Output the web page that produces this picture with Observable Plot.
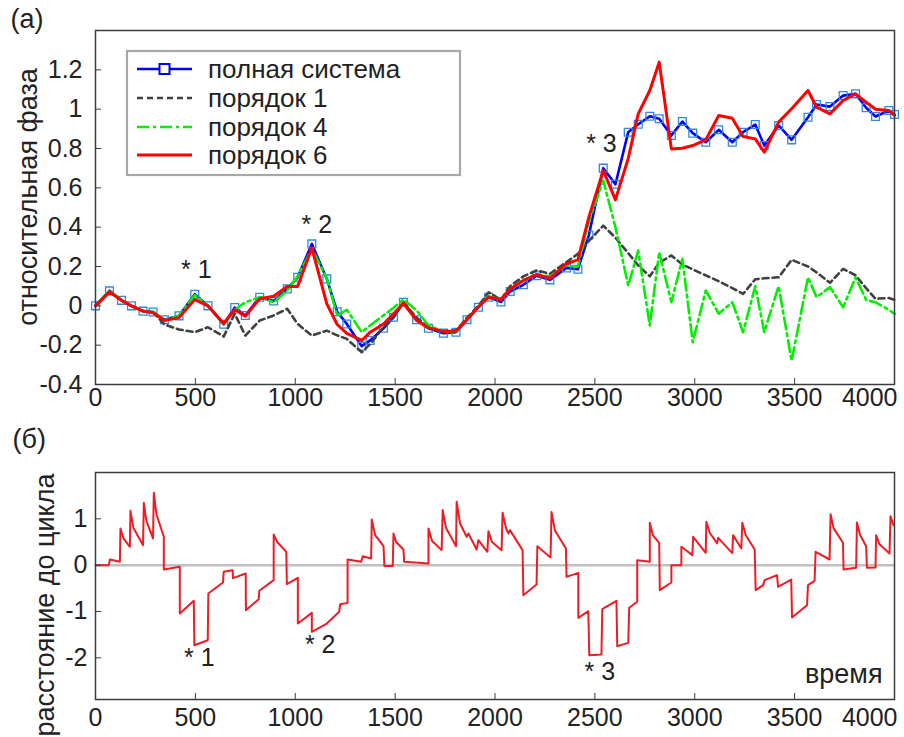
<!DOCTYPE html>
<html>
<head>
<meta charset="utf-8">
<script src="https://cdn.jsdelivr.net/npm/d3@7"></script>
<script src="https://cdn.jsdelivr.net/npm/@observablehq/plot@0.6"></script>
<style>
  body { margin: 0; background: #fff; }
  #chart { position: relative; width: 904px; height: 737px; background: #fff; }
  #chart svg { display: block; overflow: visible; }
</style>
</head>
<body>
<div id="chart"></div>
<script>
// ---- (а) relative phase: full system vs. reduced-order models ----
const time = [0, 70, 130, 180, 238, 288, 345, 418, 497, 563,
  642, 697, 750, 822, 892, 960, 1012, 1083, 1158, 1210,
  1258, 1333, 1375, 1442, 1492, 1542, 1608, 1667, 1742, 1805,
  1860, 1917, 1968, 2030, 2076, 2142, 2208, 2275, 2358, 2415,
  2470, 2542, 2603, 2667, 2717, 2775, 2822, 2883, 2938, 2990,
  3055, 3120, 3188, 3242, 3303, 3348, 3420, 3485, 3567, 3610,
  3677, 3743, 3805, 3858, 3905, 3972, 4000];

const fullSystem = [0, 0.076, 0.028, 0.0, -0.027, -0.031, -0.071, -0.051, 0.059, 0.0,
  -0.094, -0.009, -0.049, 0.044, 0.025, 0.086, 0.145, 0.315, 0.137, -0.03,
  -0.092, -0.205, -0.176, -0.114, -0.058, 0.018, -0.071, -0.114, -0.139, -0.134,
  -0.071, -0.007, 0.044, 0.02, 0.073, 0.107, 0.153, 0.132, 0.193, 0.186,
  0.36, 0.70, 0.618, 0.883, 0.923, 0.964, 0.951, 0.866, 0.937, 0.878,
  0.832, 0.895, 0.832, 0.883, 0.922, 0.815, 0.917, 0.844, 0.959, 1.024,
  1.013, 1.069, 1.078, 1.007, 0.963, 0.993, 0.973];

const order1 = [0, 0.076, 0.028, 0.0, -0.027, -0.031, -0.095, -0.12, -0.134, -0.109,
  -0.156, -0.04, -0.151, -0.075, -0.049, -0.015, -0.092, -0.151, -0.126, -0.15,
  -0.168, -0.236, -0.194, -0.109, -0.06, 0.018, -0.06, -0.11, -0.13, -0.125,
  -0.06, 0.0, 0.069, 0.031, 0.1, 0.15, 0.18, 0.163, 0.222, 0.264,
  0.33, 0.408, 0.346, 0.268, 0.205, 0.15, 0.22, 0.256, 0.21, 0.185,
  0.155, 0.125, 0.09, 0.061, 0.135, 0.14, 0.145, 0.234, 0.2, 0.17,
  0.117, 0.188, 0.155, 0.09, 0.036, 0.04, 0.03];

const order4 = [0, 0.076, 0.028, 0.0, -0.027, -0.031, -0.071, -0.051, 0.055, 0.0,
  -0.094, -0.02, 0.018, 0.044, 0.018, 0.078, 0.15, 0.29, 0.14, -0.05,
  -0.02, -0.134, -0.10, -0.048, -0.01, 0.032, -0.024, -0.1, -0.13, -0.13,
  -0.068, -0.005, 0.05, 0.03, 0.085, 0.13, 0.16, 0.149, 0.205, 0.2,
  0.43, 0.637, 0.40, 0.103, 0.281, -0.1, 0.273, 0.018, 0.239, -0.185,
  0.078, -0.04, 0.018, -0.134, 0.1, -0.134, 0.1, -0.28, 0.145, 0.044,
  0.095, -0.007, 0.145, 0.03, 0.018, -0.02, -0.041];

const order6 = [0, 0.07, 0.028, 0.0, -0.027, -0.035, -0.075, -0.06, 0.032, 0.0,
  -0.09, -0.02, -0.053, 0.036, 0.049, 0.098, 0.098, 0.295, 0.01, -0.095,
  -0.14, -0.176, -0.134, -0.092, -0.04, 0.013, -0.075, -0.112, -0.13, -0.128,
  -0.07, -0.005, 0.045, 0.031, 0.086, 0.129, 0.159, 0.140, 0.214, 0.234,
  0.451, 0.688, 0.539, 0.75, 0.976, 1.095, 1.239, 0.798, 0.801, 0.815,
  0.844, 0.968, 0.954, 0.861, 0.849, 0.781, 0.934, 1.002, 1.095, 1.010,
  0.976, 1.044, 1.078, 1.035, 1.0, 0.993, 0.968];

const seriesNames = ["полная система", "порядок 1", "порядок 4", "порядок 6"];

// ---- (б) distance to the cycle ----
const cycleTime = [0, 67, 72, 122, 125, 140, 172, 175, 190, 238,
  242, 255, 288, 292, 305, 342, 342, 422, 422, 492,
  495, 562, 565, 638, 642, 687, 688, 752, 753, 817,
  820, 892, 892, 910, 955, 958, 1013, 1013, 1083, 1083,
  1158, 1220, 1225, 1262, 1262, 1330, 1338, 1380, 1383, 1400,
  1442, 1446, 1488, 1492, 1505, 1542, 1545, 1667, 1667, 1685,
  1733, 1738, 1755, 1805, 1808, 1825, 1858, 1867, 1908, 1917,
  1962, 1967, 1985, 2033, 2038, 2055, 2067, 2075, 2138, 2142,
  2208, 2212, 2278, 2283, 2300, 2355, 2358, 2417, 2417, 2467,
  2472, 2533, 2537, 2608, 2612, 2667, 2672, 2712, 2712, 2775,
  2775, 2790, 2822, 2825, 2883, 2883, 2933, 2933, 2988, 2992,
  3055, 3058, 3075, 3112, 3117, 3188, 3192, 3233, 3238, 3255,
  3300, 3305, 3342, 3350, 3412, 3417, 3483, 3487, 3562, 3567,
  3600, 3605, 3675, 3680, 3695, 3742, 3745, 3808, 3812, 3828,
  3858, 3862, 3905, 3908, 3925, 3975, 3980, 3995];

const cycleDist = [0, 0, 0.122, 0.072, 0.792, 0.58, 0.396, 1.173, 0.8, 0.432,
  1.346, 0.95, 0.576, 1.562, 1.1, 0.612, -0.094, -0.036, -1.044, -0.77,
  -1.728, -1.62, -0.612, -0.374, -0.144, -0.108, -0.281, -0.18, -0.972, -0.734,
  -0.554, -0.324, 0.662, 0.5, 0.288, -0.41, -0.274, -1.26, -1.03, -1.44,
  -1.26, -1.008, -0.842, -0.814, 0.122, 0.072, 0.194, 0.144, 0.986, 0.65,
  0.41, -0.02, -0.02, 0.684, 0.5, 0.338, 0.072, 0.036, 0.792, 0.52,
  0.324, 1.188, 0.8, 0.41, 1.368, 0.9, 0.612, 0.684, 0.338, 0.54,
  0.288, 0.734, 0.5, 0.324, 1.13, 0.8, 0.684, 0.756, 0.324, -0.648,
  -0.417, 0.41, 0.166, 1.145, 0.75, 0.36, -0.252, -0.166, -1.138, -0.994,
  -1.944, -1.929, -0.95, -0.77, -1.75, -1.678, -0.92, -0.79, 0.108, 0.072,
  0.914, 0.65, 0.482, -0.54, -0.374, 0.0, 0.0, 0.396, 0.216, 0.612,
  0.266, 0.936, 0.7, 0.47, 0.59, 0.26, 0.648, 0.36, 0.914, 0.65,
  0.338, -0.54, -0.432, -0.324, -0.216, -0.468, -0.31, -1.13, -0.864, -0.432,
  -0.338, 0.288, 0.122, 1.1, 0.8, 0.482, -0.094, -0.057, 0.922, 0.65,
  0.41, -0.057, -0.05, 0.648, 0.45, 0.252, 1.058, 0.86];

// ---- axes ----
const timeTicks = [0, 500, 1000, 1500, 2000, 2500, 3000, 3500];
const timeEndTick = [4000];
const phaseTicks = [-0.4, -0.2, 0, 0.2, 0.4, 0.6, 0.8, 1, 1.2];
const phaseTickLabels = ["-0.4", "-0.2", "0", "0.2", "0.4", "0.6", "0.8", "1", "1.2"];
const distTicks = [-2, -1, 0, 1];
const distTickLabels = ["-2", "-1", "0", "1"];

// ---- event markers ----
const eventLabels = ["* 1", "* 2", "* 3"];
const eventTime = [505, 1108, 2533];
const eventPhase = [0.18, 0.41, 0.825];
const eventTimeB = [520, 1125, 2525];
const eventDist = [-2.0, -1.73, -2.31];

const FONT = "'Liberation Sans', Arial, Helvetica, sans-serif";
const INK = "#222";

const phaseRows = time.map((t, i) => ({
  t, full: fullSystem[i], o1: order1[i], o4: order4[i], o6: order6[i]
}));
const cycleRows = cycleTime.map((t, i) => ({t, d: cycleDist[i]}));
const eventRowsA = eventLabels.map((s, i) => ({s, t: eventTime[i], v: eventPhase[i]}));
const eventRowsB = eventLabels.map((s, i) => ({s, t: eventTimeB[i], v: eventDist[i]}));

const styles = {
  full: {stroke: "#0000ff", strokeWidth: 2.6},
  marker: {stroke: "#2f8ae0", strokeWidth: 1.3},
  o1: {stroke: "#404040", strokeWidth: 2.6, strokeDasharray: "6,4"},
  o4: {stroke: "#00f000", strokeWidth: 2.6, strokeDasharray: "12,4,3,4"},
  o6: {stroke: "#ff0000", strokeWidth: 3}
};

// vertical axis title, centred on (cx, cy)
function sideTitle(svg, label, cx, cy) {
  d3.select(svg).append("text")
    .attr("transform", `translate(${cx},${cy}) rotate(-90)`)
    .attr("text-anchor", "middle").attr("dy", "0.35em")
    .attr("font-family", FONT).attr("font-size", 27).attr("fill", INK)
    .text(label);
}

const chart = document.getElementById("chart");

// ---------- panel (а) ----------
const panelA = Plot.plot({
  width: 904, height: 415,
  marginTop: 30, marginBottom: 31, marginLeft: 95, marginRight: 10,
  style: {fontFamily: FONT, fontSize: "25px", color: INK, background: "white"},
  x: {domain: [0, 4000]},
  y: {domain: [-0.4, 1.4]},
  marks: [
    Plot.line(phaseRows, {x: "t", y: "full", ...styles.full}),
    Plot.dot(phaseRows, {x: "t", y: "full", symbol: "square", r: 4.4, fill: "none", ...styles.marker}),
    Plot.line(phaseRows, {x: "t", y: "o1", ...styles.o1}),
    Plot.line(phaseRows, {x: "t", y: "o4", ...styles.o4}),
    Plot.line(phaseRows, {x: "t", y: "o6", ...styles.o6}),
    Plot.frame({stroke: "#3c3c3c", strokeWidth: 1.5}),
    Plot.axisX({ticks: timeTicks, tickSize: -6, tickPadding: 10, tickFormat: d => String(d), label: null, stroke: "#3c3c3c"}),
    Plot.axisX({ticks: timeEndTick, tickSize: 0, tickPadding: 4, tickFormat: d => String(d), textAnchor: "end", dx: 3, label: null}),
    Plot.axisY({ticks: phaseTicks, tickSize: -6, tickPadding: 19, tickFormat: (d, i) => phaseTickLabels[i], label: null, stroke: "#3c3c3c"}),
    Plot.text(eventRowsA, {x: "t", y: "v", text: "s", fontSize: 25, fill: INK}),
    Plot.text(["(а)"], {frameAnchor: "top-left", dx: -85, dy: -22, fontSize: 27, fill: INK})
  ]
});
sideTitle(panelA, "относительная фаза", 28, 197);

// legend box
const lg = d3.select(panelA).append("g")
  .attr("font-family", FONT).attr("font-size", 26).attr("fill", INK).attr("text-anchor", "start");
lg.append("rect").attr("x", 127).attr("y", 51).attr("width", 333).attr("height", 124)
  .attr("fill", "white").attr("stroke", "#a8a8a8").attr("stroke-width", 2.2);
const rowY = [69, 98, 127, 155];
const keys = ["full", "o1", "o4", "o6"];
keys.forEach((k, i) => {
  const s = styles[k];
  lg.append("line").attr("x1", 137).attr("x2", 192).attr("y1", rowY[i]).attr("y2", rowY[i])
    .attr("stroke", s.stroke).attr("stroke-width", s.strokeWidth)
    .attr("stroke-dasharray", s.strokeDasharray || null);
  if (k === "full") {
    lg.append("rect").attr("x", 159.5).attr("y", rowY[i] - 5).attr("width", 10).attr("height", 10)
      .attr("fill", "white").attr("stroke", "#0000ff").attr("stroke-width", 2);
  }
  lg.append("text").attr("x", 208).attr("y", rowY[i]).attr("dy", "0.35em")
    .attr("text-anchor", "start").text(seriesNames[i]);
});
chart.appendChild(panelA);

// ---------- panel (б) ----------
const panelB = Plot.plot({
  width: 904, height: 322,
  marginTop: 57, marginBottom: 38, marginLeft: 95, marginRight: 10,
  style: {fontFamily: FONT, fontSize: "25px", color: INK, background: "white"},
  x: {domain: [0, 4000]},
  y: {domain: [-2.9, 2.0]},
  marks: [
    Plot.ruleY([0], {stroke: "#c0c0c0", strokeWidth: 2.5}),
    Plot.line(cycleRows, {x: "t", y: "d", stroke: "#ee1c25", strokeWidth: 2}),
    Plot.frame({stroke: "#3c3c3c", strokeWidth: 1.5}),
    Plot.axisX({ticks: timeTicks, tickSize: -6, tickPadding: 15, tickFormat: d => String(d), label: null, stroke: "#3c3c3c"}),
    Plot.axisX({ticks: timeEndTick, tickSize: 0, tickPadding: 9, tickFormat: d => String(d), textAnchor: "end", dx: 3, label: null}),
    Plot.axisY({ticks: distTicks, tickSize: -6, tickPadding: 14, tickFormat: (d, i) => distTickLabels[i], label: null, stroke: "#3c3c3c"}),
    Plot.text(eventRowsB, {x: "t", y: "v", text: "s", fontSize: 25, fill: INK}),
    Plot.text(["время"], {frameAnchor: "bottom-right", textAnchor: "end", dx: -12, dy: -17, fontSize: 27, fill: INK}),
    Plot.text(["(б)"], {frameAnchor: "top-left", dx: -83, dy: -44, fontSize: 27, fill: INK})
  ]
});
sideTitle(panelB, "расстояние до цикла", 45, 190);
chart.appendChild(panelB);
</script>
</body>
</html>
